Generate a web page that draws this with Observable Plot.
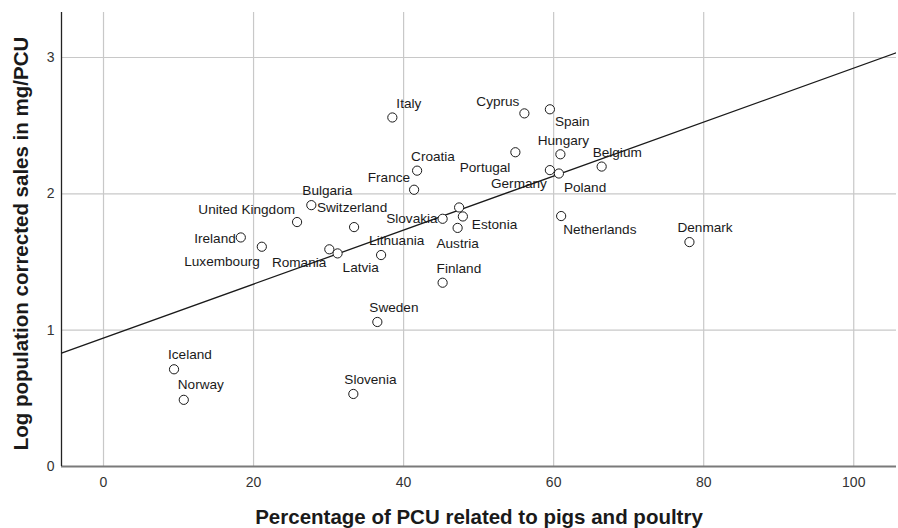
<!DOCTYPE html>
<html>
<head>
<meta charset="utf-8">
<script src="https://cdn.jsdelivr.net/npm/d3@7"></script>
<script src="https://cdn.jsdelivr.net/npm/@observablehq/plot@0.6"></script>
<style>
  html, body { margin: 0; padding: 0; background: #fff; }
  svg { font-family: "Liberation Sans", Arial, sans-serif; }
</style>
</head>
<body>
<div id="chart"></div>
<script>
// ---- Data ----
const countries = [
  "Italy", "Cyprus", "Spain", "Hungary", "Portugal", "Belgium", "Germany", "Poland",
  "Croatia", "France", "Netherlands", "Slovakia", "", "Estonia", "Austria", "Finland",
  "United Kingdom", "Bulgaria", "Switzerland", "Ireland", "Luxembourg", "Romania",
  "Latvia", "Lithuania", "Sweden", "Iceland", "Norway", "Slovenia", "Denmark"
];
const pctPigsPoultry = [
  38.5, 56.1, 59.5, 60.9, 54.9, 66.4, 59.5, 60.7,
  41.8, 41.4, 61.0, 45.2, 47.4, 47.9, 47.2, 45.2,
  25.8, 27.7, 33.4, 18.3, 21.1, 30.1,
  31.2, 37.0, 36.5, 9.4, 10.7, 33.3, 78.1
];
const logSales = [
  2.56, 2.59, 2.62, 2.29, 2.305, 2.20, 2.174, 2.149,
  2.17, 2.03, 1.837, 1.817, 1.90, 1.834, 1.75, 1.348,
  1.793, 1.917, 1.756, 1.68, 1.612, 1.593,
  1.563, 1.551, 1.06, 0.713, 0.489, 0.532, 1.646
];
const xTicks = [0, 20, 40, 60, 80, 100];
const yTicks = [0, 1, 2, 3];
const xDomain = [-5.6, 105.7];
const yDomain = [0, 3.33];
// fitted regression line
const fitIntercept = 0.942;
const fitSlope = 0.0198;

const xTitle = "Percentage of PCU related to pigs and poultry";
const yTitle = "Log population corrected sales in mg/PCU";

// ---- Label placement (style only) ----
const labelPlacement = {
  "Italy": [4, -14, "start"],
  "Cyprus": [-5, -12, "end"],
  "Spain": [5, 12, "start"],
  "Hungary": [3, -14, "middle"],
  "Portugal": [-5, 15, "end"],
  "Belgium": [-9, -14, "start"],
  "Germany": [-3, 14, "end"],
  "Poland": [5, 14, "start"],
  "Croatia": [-6, -14, "start"],
  "France": [-4, -12, "end"],
  "Netherlands": [2, 14, "start"],
  "Slovakia": [-5, 0, "end"],
  "Estonia": [9, 8, "start"],
  "Austria": [0, 16, "middle"],
  "Finland": [-6, -14, "start"],
  "United Kingdom": [-2, -12, "end"],
  "Bulgaria": [-9, -15, "start"],
  "Switzerland": [-2, -19, "middle"],
  "Ireland": [-5, 1, "end"],
  "Luxembourg": [-2, 15, "end"],
  "Romania": [-3, 13, "end"],
  "Latvia": [5, 14, "start"],
  "Lithuania": [-12, -14, "start"],
  "Sweden": [-8, -14, "start"],
  "Iceland": [-6, -15, "start"],
  "Norway": [-6, -15, "start"],
  "Slovenia": [-9, -14, "start"],
  "Denmark": [-12, -14, "start"]
};

const data = countries.map((c, i) => ({country: c, x: pctPigsPoultry[i], y: logSales[i]}));
const fit = xDomain.map(x => ({x, y: fitIntercept + fitSlope * x}));

const labelMarks = data.filter(d => d.country && labelPlacement[d.country]).map(d => {
  const [dx, dy, anchor] = labelPlacement[d.country];
  return Plot.text([d], {x: "x", y: "y", text: "country", dx, dy, textAnchor: anchor,
    fontSize: 13.6, fill: "#1a1a1a"});
});

const chart = Plot.plot({
  width: 898,
  height: 528,
  marginLeft: 61,
  marginRight: 2,
  marginTop: 12,
  marginBottom: 62,
  style: {fontFamily: "'Liberation Sans', Arial, sans-serif", background: "#fff"},
  x: {domain: xDomain},
  y: {domain: yDomain},
  marks: [
    Plot.ruleX(xTicks, {stroke: "#c8c8c8", strokeWidth: 1.2}),
    Plot.ruleY(yTicks.filter(t => t > 0), {stroke: "#c8c8c8", strokeWidth: 1.2}),
    Plot.axisX(xTicks, {tickSize: 0, tickPadding: 11, fontSize: 14, fill: "#333", label: null, tickFormat: d => String(d)}),
    Plot.axisY(yTicks, {tickSize: 0, tickPadding: 7, fontSize: 14, fill: "#333", label: null, tickFormat: d => String(d)}),
    Plot.ruleY([0], {stroke: "#7a7a7a", strokeWidth: 2}),
    Plot.ruleX([xDomain[0]], {stroke: "#222", strokeWidth: 1.3}),
    Plot.line(fit, {x: "x", y: "y", stroke: "#1a1a1a", strokeWidth: 1.3, clip: true}),
    Plot.dot(data, {x: "x", y: "y", r: 4.6, stroke: "#1a1a1a", strokeWidth: 1, fill: "white"}),
    ...labelMarks,
    Plot.text([xTitle], {frameAnchor: "bottom", lineAnchor: "middle", dy: 51, fontSize: 20.5, fontWeight: "bold", fill: "#1a1a1a"}),
    Plot.text([yTitle], {frameAnchor: "left", textAnchor: "middle", lineAnchor: "middle", dx: -40, dy: 4, rotate: -90, fontSize: 20.5, fontWeight: "bold", fill: "#1a1a1a"})
  ]
});
document.getElementById("chart").appendChild(chart);
</script>
</body>
</html>
